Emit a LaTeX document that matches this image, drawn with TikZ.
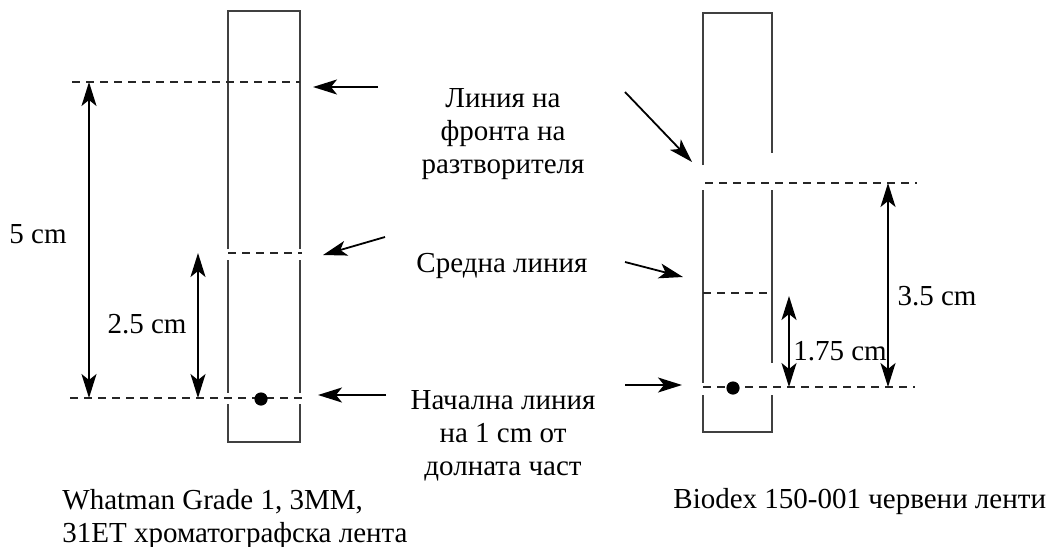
\documentclass[tikz,border=0pt]{standalone}
\usepackage{fontspec}
\setmainfont{Liberation Serif}
\usetikzlibrary{arrows.meta}
\tikzset{strip/.style = {draw = black!75, line width = 1pt}}
\tikzset{level/.style = {draw = black!85, line width = 0.8pt, dash pattern = on 4pt off 3pt}}
\tikzset{pointer/.style = {-{Stealth[length = 12pt, width = 7.5pt, inset = 3pt]}, line width = 0.9pt}}
\tikzset{span/.style = {{Stealth[length = 12pt, width = 7.5pt, inset = 3pt]}-{Stealth[length = 12pt, width = 7.5pt, inset = 3pt]}, line width = 0.9pt}}
\tikzset{lbl/.style = {inner sep = 0, font = \fontsize{14.5}{16.5}\selectfont}}

\begin{document}
\begin{tikzpicture}[x = 0.5pt, y = -0.5pt]
    \useasboundingbox (0,0) rectangle (1052,546);
    % Whatman strip
    \draw [strip] (228,249) -- (228,11) -- (300,11) -- (300,249);
    \draw [strip] (228,260) -- (228,393) (300,260) -- (300,393);
    \draw [strip] (228,404) -- (228,442) -- (300,442) -- (300,404);
    \draw [level] (72,82) -- (300,82);
    \draw [level] (228,253) -- (302,253);
    \draw [level] (70,398) -- (302,398);
    \fill (261,399) circle (3.3pt);
    % Biodex strip
    \draw [strip] (703,165) -- (703,13) -- (772,13) -- (772,153);
    \draw [strip] (703,190) -- (703,383) (772,190) -- (772,363);
    \draw [strip] (703,395) -- (703,432) -- (772,432) -- (772,395);
    \draw [level] (705,183) -- (917,183);
    \draw [level] (703,293) -- (772,293);
    \draw [level] (703,387) -- (915,387);
    \fill (733,388) circle (3.3pt);
    % distances
    \coordinate (fiveTop) at (89,82);
    \coordinate (fiveBot) at (89,398);
    \coordinate (halfTop) at (198,253);
    \coordinate (halfBot) at (198,398);
    \coordinate (bioTop) at (888,183);
    \coordinate (bioBot) at (888,387);
    \coordinate (bioMid) at (789,296);
    \coordinate (bioLow) at (789,387);
    \draw [span] (fiveTop) -- (fiveBot);
    \draw [span] (halfTop) -- (halfBot);
    \draw [span] (bioTop) -- (bioBot);
    \draw [span] (bioMid) -- (bioLow);
    \node [lbl, anchor = base] (five) at (38,243) {5 cm};
    \node [lbl, anchor = base] (half) at (147,333) {2.5 cm};
    \node [lbl, anchor = base] (bio) at (937,305) {3.5 cm};
    \node [lbl, anchor = base] (bioHalf) at (840,360) {1.75 cm};
    % labels in the middle
    \node [lbl, align = center, anchor = north] (front) at (503,88) {Линия на\\фронта на\\разтворителя};
    \node [lbl, anchor = base] (mid) at (502,272) {Средна линия};
    \node [lbl, align = center, anchor = north] (start) at (503,390) {Начална линия\\на 1 cm от\\долната част};
    \coordinate (frontL) at (378,87);
    \coordinate (frontLtip) at (313,87);
    \coordinate (midL) at (385,237);
    \coordinate (midLtip) at (323,255);
    \coordinate (startL) at (386,395);
    \coordinate (startLtip) at (318,395);
    \coordinate (frontR) at (625,92);
    \coordinate (frontRtip) at (692,162);
    \coordinate (midR) at (625,262);
    \coordinate (midRtip) at (683,277);
    \coordinate (startR) at (625,385);
    \coordinate (startRtip) at (682,385);
    \draw [pointer] (frontL) -- (frontLtip);
    \draw [pointer] (midL) -- (midLtip);
    \draw [pointer] (startL) -- (startLtip);
    \draw [pointer] (frontR) -- (frontRtip);
    \draw [pointer] (midR) -- (midRtip);
    \draw [pointer] (startR) -- (startRtip);
    % captions
    \node [lbl, align = left, anchor = north west] (whatman) at (62,489) {Whatman Grade 1, 3MM,\\31ET хроматографска лента};
    \node [lbl, anchor = base west] (biodex) at (673,508) {Biodex 150-001 червени ленти};
\end{tikzpicture}
\end{document}
